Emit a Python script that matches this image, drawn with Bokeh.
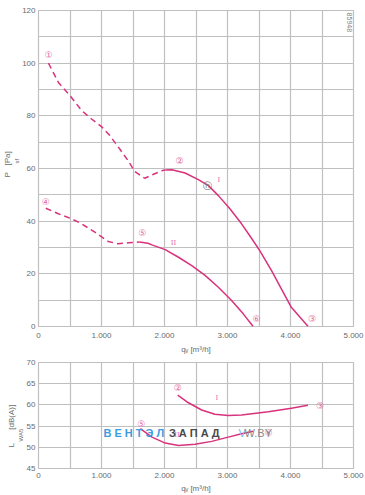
import math
from bokeh.plotting import figure
from bokeh.layouts import column
from bokeh.models import FixedTicker, Label, Range1d, Title
from bokeh.core.properties import value
from bokeh.embed import file_html
from bokeh.resources import INLINE

# ---------------- data ----------------
# pressure curve I  (q_v [m3/h], P_sf [Pa])
I_dash_q = [158, 316, 500, 685, 842, 1000, 1132, 1290, 1422, 1527, 1685, 1817, 1975, 2020]
I_dash_p = [100, 92.7, 87.7, 82.0, 78.8, 75.9, 72.5, 67.4, 63.0, 58.9, 56.3, 57.7, 59.3, 59.4]
I_sol_q = [2020, 2117, 2327, 2538, 2697, 2855, 3038, 3223, 3381, 3512, 3697, 3855, 4013, 4280]
I_sol_p = [59.4, 59.5, 58.3, 55.8, 53.5, 49.7, 44.7, 39.0, 33.5, 28.8, 21.3, 14.3, 7.3, 0.0]
# pressure curve II
II_dash_q = [116, 316, 527, 685, 895, 1106, 1264, 1422, 1600]
II_dash_p = [44.9, 42.8, 40.9, 39.0, 35.8, 32.3, 31.4, 31.8, 32.1]
II_sol_q = [1600, 1738, 1801, 2011, 2222, 2433, 2644, 2855, 3065, 3250, 3407]
II_sol_p = [32.1, 31.6, 31.0, 29.2, 26.3, 23.1, 19.4, 14.9, 9.9, 4.8, 0.0]

# sound power curves (q_v [m3/h], L_WA5 [dB(A)])
LI_q = [2210, 2380, 2590, 2800, 3012, 3223, 3650, 4013, 4276]
LI_l = [62.3, 60.5, 58.8, 57.8, 57.5, 57.6, 58.4, 59.2, 59.9]
LII_q = [1616, 1801, 2011, 2222, 2486, 2749, 3012, 3223, 3407]
LII_l = [54.4, 52.4, 51.0, 50.4, 50.7, 51.4, 52.4, 53.2, 53.8]

# operating point markers
top_mark_txt = ["\u2460", "\u2461", "\u2462", "\u2463", "\u2464", "\u2465"]
top_mark_q = [158, 2238, 4340, 116, 1648, 3460]
top_mark_p = [103.0, 62.7, 2.7, 47.2, 35.6, 2.7]
n_mark_q = [2686]
n_mark_p = [53.5]
top_roman_txt = ["I", "II"]
top_roman_q = [2864, 2143]
top_roman_p = [55.7, 31.8]

bot_mark_txt = ["\u2461", "\u2462", "\u2464", "\u2465"]
bot_mark_q = [2210, 4470, 1630, 3650]
bot_mark_l = [64.0, 59.7, 55.5, 53.3]
bot_roman_txt = ["I", "II"]
bot_roman_q = [2830, 2200]
bot_roman_l = [61.7, 52.9]

x_ticks = [0, 1000, 2000, 3000, 4000, 5000]
x_tick_labels = ["0", "1.000", "2.000", "3.000", "4.000", "5.000"]
x_minor = [500, 1500, 2500, 3500, 4500]
top_y_ticks = [0, 20, 40, 60, 80, 100, 120]
top_y_minor = [10, 30, 50, 70, 90, 110]
bot_y_ticks = [45, 50, 55, 60, 65, 70]

x_title = "q\u1d65 [m\u00b3/h]"

# ---------------- style ----------------
CURVE = "#d8327c"
MARK = "#e36aa8"
GRID = "#c0c0c0"
TXT = "#6a6a6a"
FONT = "Liberation Sans"
NB = "\u00a0"


def style(p, yticks, yminor):
    xt = FixedTicker(ticks=x_ticks, minor_ticks=x_minor)
    yt = FixedTicker(ticks=yticks, minor_ticks=yminor)
    p.xaxis.ticker = xt
    p.xgrid.ticker = xt
    p.yaxis.ticker = yt
    p.ygrid.ticker = yt
    p.xaxis.major_label_overrides = {t: l for t, l in zip(x_ticks, x_tick_labels)}
    for ax in (p.xaxis[0], p.yaxis[0]):
        ax.axis_line_color = None
        ax.major_tick_line_color = None
        ax.minor_tick_line_color = None
        ax.major_tick_out = 0
        ax.major_tick_in = 0
        ax.minor_tick_out = 0
        ax.major_label_text_font = FONT
        ax.major_label_text_font_size = "8px"
        ax.major_label_text_color = TXT
    p.xaxis.axis_label = x_title
    p.xaxis.axis_label_text_font = FONT
    p.xaxis.axis_label_text_font_size = "8px"
    p.xaxis.axis_label_text_font_style = "normal"
    p.xaxis.axis_label_text_color = TXT
    p.yaxis.major_label_standoff = 3
    p.grid.grid_line_color = GRID
    p.grid.minor_grid_line_color = GRID
    p.grid.grid_line_width = 1.2
    p.grid.minor_grid_line_width = 1.2
    p.outline_line_color = GRID
    p.outline_line_width = 1.2
    p.background_fill_color = "white"
    p.border_fill_color = "white"


def side_title(p, text, offset, size="8px"):
    p.add_layout(Title(text=text, align="left", offset=offset, standoff=0,
                       text_font=FONT, text_font_size=size, text_font_style="normal",
                       text_line_height=1.0, text_color=TXT, vertical_align="bottom"), "left")


def lab(p, x, y, text, size="8px", color=TXT, angle=0.0, bold=False):
    p.add_layout(Label(x=x, y=y, text=text, text_font=FONT, text_font_size=size,
                       text_color=color, angle=angle, text_align="left",
                       text_baseline="middle",
                       text_font_style="bold" if bold else "normal"))


# ---------------- top chart ----------------
top = figure(width=365, height=356, output_backend="svg", toolbar_location=None,
             x_range=Range1d(0, 5000), y_range=Range1d(0, 120),
             min_border_left=36, min_border_right=12, min_border_top=10, min_border_bottom=30)
style(top, top_y_ticks, top_y_minor)
top.xaxis.major_label_standoff = 6
top.xaxis.axis_label_standoff = 4

top.line(I_dash_q, I_dash_p, line_color=CURVE, line_width=1.5, line_dash="6 4")
top.line(I_sol_q, I_sol_p, line_color=CURVE, line_width=1.5)
top.line(II_dash_q, II_dash_p, line_color=CURVE, line_width=1.5, line_dash="6 4")
top.line(II_sol_q, II_sol_p, line_color=CURVE, line_width=1.5)

top.text(x=top_mark_q, y=top_mark_p, text=top_mark_txt, text_color=MARK,
         text_font=value("DejaVu Sans"), text_font_size="9px",
         text_align="center", text_baseline="middle")
top.text(x=n_mark_q, y=n_mark_p, text=["\u24dd"], text_color="#707070",
         text_font=value("DejaVu Sans"), text_font_size="9px",
         text_align="center", text_baseline="middle")
top.text(x=top_roman_q, y=top_roman_p, text=top_roman_txt, text_color=MARK,
         text_font=value("DejaVu Serif"), text_font_size="7px",
         text_align="center", text_baseline="middle")

# y axis title: P_sf [Pa]
side_title(top, "sf", 163, size="6px")
side_title(top, "P" + NB * 3 + "[Pa]", 149)
lab(top, 4929, 119.2, "85948", size="7px", color="#808080", angle=-math.pi / 2)

# ---------------- bottom chart ----------------
bot = figure(width=365, height=139, output_backend="svg", toolbar_location=None,
             x_range=Range1d(0, 5000), y_range=Range1d(45, 70),
             min_border_left=36, min_border_right=12, min_border_top=6, min_border_bottom=26)
style(bot, bot_y_ticks, [])
bot.xaxis.major_label_standoff = 4
bot.xaxis.axis_label_standoff = 3

bot.line(LI_q, LI_l, line_color=CURVE, line_width=1.5)
bot.line(LII_q, LII_l, line_color=CURVE, line_width=1.5)
bot.text(x=bot_mark_q, y=bot_mark_l, text=bot_mark_txt, text_color=MARK,
         text_font=value("DejaVu Sans"), text_font_size="9px",
         text_align="center", text_baseline="middle")
bot.text(x=bot_roman_q, y=bot_roman_l, text=bot_roman_txt, text_color=MARK,
         text_font=value("DejaVu Serif"), text_font_size="7px",
         text_align="center", text_baseline="middle")

# watermark
lab(bot, 1030, 53.4, "В Е Н Т Э Л", size="11px", color="#3d9be0", bold=True)
lab(bot, 2070, 53.4, "З А П А Д", size="11px", color="#4a4a4a", bold=True)
lab(bot, 3175, 53.4, "V", size="11px", color="#7ab8e8")
lab(bot, 3270, 53.4, "W.BY", size="11px", color="#8a8a8a")

# y axis title: L_WA5 [dB(A)]
side_title(bot, "WA5", 27, size="6px")
side_title(bot, "L" + NB * 6 + "[dB(A)]", 21)

layout = column(top, bot)
open("out.html", "w").write(file_html(layout, INLINE))
